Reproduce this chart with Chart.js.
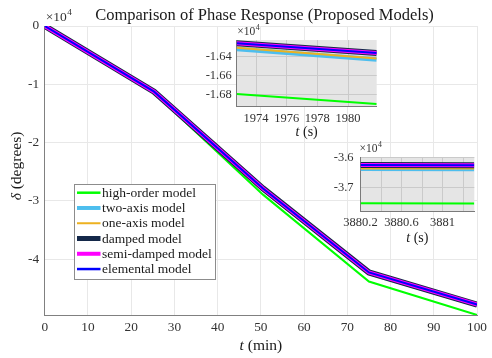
<!DOCTYPE html>
<html>
<head>
<meta charset="utf-8">
<script src="https://cdn.jsdelivr.net/npm/chart.js@4.4.1/dist/chart.umd.min.js"></script>
<style>
  html, body { margin: 0; padding: 0; background: #ffffff; }
  #wrap { position: relative; width: 492px; height: 358px; overflow: hidden; }
  #wrap canvas { position: absolute; }
</style>
</head>
<body>
<div id="wrap">
  <canvas id="main" width="492" height="358" style="left:0px;top:0px"></canvas>
  <canvas id="zoomA" width="195" height="116" style="left:190px;top:24px"></canvas>
  <canvas id="zoomB" width="182" height="105" style="left:310px;top:140px"></canvas>
</div>
<script>
// ---------- series ----------
const seriesLabels = ['high-order model', 'two-axis model', 'one-axis model',
                      'damped model', 'semi-damped model', 'elemental model'];

// ---------- full run: time in minutes, phase in degrees ----------
const timeMin        = [0, 25.3, 50.5, 75, 100];
const highOrderDeg   = [0, -11500, -28940, -43850, -49600];
const twoAxisDeg     = [0, -11300, -27940, -42380, -47870];
const oneAxisDeg     = [0, -11295, -27930, -42370, -47860];
const dampedDeg      = [0, -11270, -27880, -42300, -47800];
const semiDampedDeg  = [0, -11270, -27880, -42300, -47800];
const elementalDeg   = [0, -11270, -27880, -42300, -47800];
const mainTimeTicks  = [0, 10, 20, 30, 40, 50, 60, 70, 80, 90, 100];
const mainPhaseTicks = [-40000, -30000, -20000, -10000, 0];

// ---------- detail window A: time in seconds ----------
const zoomATime          = [1972.74, 1981.87];
const zoomAHighOrder     = [-16793, -16898];
const zoomATwoAxis       = [-16318, -16430];
const zoomAOneAxis       = [-16306, -16418];
const zoomADamped        = [-16259, -16362];
const zoomASemiDamped    = [-16259, -16362];
const zoomAElemental     = [-16259, -16362];
const zoomATimeTicks     = [1974, 1976, 1978, 1980];
const zoomAPhaseTicks    = [-16800, -16600, -16400];

// ---------- detail window B: time in seconds ----------
const zoomBTime          = [3880.2, 3881.31];
const zoomBHighOrder     = [-37540, -37545];
const zoomBTwoAxis       = [-36378, -36383];
const zoomBOneAxis       = [-36365, -36370];
const zoomBDamped        = [-36250, -36256];
const zoomBSemiDamped    = [-36250, -36256];
const zoomBElemental     = [-36250, -36256];
const zoomBTimeTicks     = [3880.2, 3880.4, 3880.6, 3880.8, 3881.0, 3881.2];
const zoomBTimeLabels    = ['3880.2', '', '3880.6', '', '3881', ''];
const zoomBPhaseTicks    = [-37000, -36000];

// ---------- styling ----------
const SERIF = '"Liberation Serif", "Times New Roman", serif';
const seriesColors = ['#00ff00', '#4dbeee', '#edb120', '#142849', '#ff00ff', '#0000ff'];
const seriesWidths = [2, 4.5, 2, 6, 4, 2];
const legendWidths = [2.5, 4, 2, 5, 4, 2.5];
const TEXT = '#1a1a1a';
const TICK_TEXT = '#333333';

function toPoints(xs, ys) {
  return xs.map((x, i) => ({ x: x, y: ys[i] }));
}

// later series are painted over earlier ones
function buildDatasets(xs, seriesList, clip) {
  const n = seriesList.length;
  return seriesList.map((ys, i) => {
    const ds = {
      label: seriesLabels[i],
      data: toPoints(xs, ys),
      borderColor: seriesColors[i],
      backgroundColor: seriesColors[i],
      borderWidth: seriesWidths[i],
      pointRadius: 0,
      tension: 0,
      fill: false,
      order: n - 1 - i,
      borderCapStyle: 'butt',
      borderJoinStyle: 'miter'
    };
    if (clip !== undefined) ds.clip = clip;
    return ds;
  });
}

function linearAxis(o) {
  return {
    type: 'linear',
    min: o.min,
    max: o.max,
    afterBuildTicks: s => { s.ticks = o.ticks.map(v => ({ value: v })); },
    afterFit: s => { if (o.isX) s.height = o.fit; else s.width = o.fit; },
    grid: { color: o.gridColor, drawTicks: false, lineWidth: 1 },
    border: { display: true, color: o.axisColor, width: 1 },
    ticks: {
      padding: o.pad, color: TICK_TEXT,
      font: { family: SERIF, size: o.size },
      callback: o.fmt, autoSkip: false, maxRotation: 0, minRotation: 0
    }
  };
}

// draw a sequence of text runs with differing fonts
function drawRuns(ctx, runs, x, y, align) {
  let total = 0;
  runs.forEach(r => { ctx.font = r.font; total += ctx.measureText(r.text).width; });
  let cx = align === 'center' ? x - total / 2 : x;
  ctx.textAlign = 'left';
  ctx.textBaseline = 'alphabetic';
  runs.forEach(r => {
    ctx.font = r.font;
    ctx.fillText(r.text, cx, y);
    cx += ctx.measureText(r.text).width;
  });
}

// "×10^4" exponent marker above an axis
function drawExponent(ctx, x, baseline, size) {
  ctx.fillStyle = TICK_TEXT;
  ctx.textAlign = 'left';
  ctx.textBaseline = 'alphabetic';
  ctx.font = size + 'px ' + SERIF;
  const w = ctx.measureText('\u00d710').width;
  ctx.fillText('\u00d710', x, baseline);
  ctx.font = (size * 0.68) + 'px ' + SERIF;
  ctx.fillText('4', x + w + 0.5, baseline - size * 0.42);
}

// ---------- full run chart ----------
const mainDecor = {
  id: 'mainDecor',
  afterDraw(chart) {
    const ctx = chart.ctx;
    const area = chart.chartArea;
    ctx.save();
    ctx.fillStyle = TEXT;

    // title
    drawRuns(ctx, [{ text: 'Comparison of Phase Response (Proposed Models)', font: '16.5px ' + SERIF }],
             264.5, 20, 'center');

    // exponent marker on the phase axis
    drawExponent(ctx, area.left + 1, 21, 13.5);

    // axis titles
    ctx.fillStyle = TEXT;
    drawRuns(ctx, [{ text: 't', font: 'italic 15.5px ' + SERIF },
                   { text: ' (min)', font: '15.5px ' + SERIF }],
             (area.left + area.right) / 2, 349.5, 'center');
    ctx.save();
    ctx.translate(21, 166);
    ctx.rotate(-Math.PI / 2);
    drawRuns(ctx, [{ text: '\u03b4', font: 'italic 15.5px ' + SERIF },
                   { text: ' (degrees)', font: '15.5px ' + SERIF }],
             0, 0, 'center');
    ctx.restore();

    // legend
    const box = { x: 74.5, y: 184.5, w: 141, h: 95 };
    ctx.fillStyle = '#ffffff';
    ctx.fillRect(box.x, box.y, box.w, box.h);
    ctx.strokeStyle = '#8c8c8c';
    ctx.lineWidth = 1;
    ctx.strokeRect(box.x, box.y, box.w, box.h);
    chart.data.datasets.forEach((ds, i) => {
      const y = 192.7 + i * 15.27;
      ctx.strokeStyle = ds.borderColor;
      ctx.lineWidth = legendWidths[i];
      ctx.beginPath();
      ctx.moveTo(77, y);
      ctx.lineTo(100.5, y);
      ctx.stroke();
      ctx.fillStyle = TEXT;
      ctx.font = '13.5px ' + SERIF;
      ctx.textAlign = 'left';
      ctx.textBaseline = 'middle';
      ctx.fillText(ds.label, 102, y + 0.5);
    });
    ctx.restore();
  }
};

new Chart(document.getElementById('main'), {
  type: 'line',
  data: {
    datasets: buildDatasets(timeMin,
      [highOrderDeg, twoAxisDeg, oneAxisDeg, dampedDeg, semiDampedDeg, elementalDeg])
  },
  options: {
    responsive: false,
    animation: false,
    events: [],
    layout: { padding: { left: 0, right: 5, top: 26, bottom: 0 } },
    plugins: { legend: { display: false }, tooltip: { enabled: false }, title: { display: false } },
    scales: {
      x: linearAxis({ isX: true, min: 0, max: 100, ticks: mainTimeTicks, fit: 43, pad: 5, size: 13.3,
                      gridColor: '#e8e8e8', axisColor: '#808080', fmt: v => String(v) }),
      y: linearAxis({ isX: false, min: -49600, max: 0, ticks: mainPhaseTicks, fit: 44.7, pad: 5.5, size: 13.3,
                      gridColor: '#e8e8e8', axisColor: '#808080', fmt: v => String(v / 1e4) })
    }
  },
  plugins: [mainDecor]
});

// ---------- detail windows ----------
function detailDecor(id, expX, expBase, titleBase) {
  return {
    id: id,
    beforeDraw(chart) {
      const a = chart.chartArea;
      const ctx = chart.ctx;
      ctx.save();
      ctx.fillStyle = '#e5e5e5';
      ctx.fillRect(a.left, a.top, a.right - a.left, a.bottom - a.top);
      ctx.restore();
    },
    afterDraw(chart) {
      const a = chart.chartArea;
      const ctx = chart.ctx;
      ctx.save();
      drawExponent(ctx, a.left + expX, expBase, 11.5);
      ctx.fillStyle = TEXT;
      drawRuns(ctx, [{ text: 't', font: 'italic 14px ' + SERIF },
                     { text: ' (s)', font: '14px ' + SERIF }],
               (a.left + a.right) / 2, titleBase, 'center');
      ctx.restore();
    }
  };
}

new Chart(document.getElementById('zoomA'), {
  type: 'line',
  data: {
    datasets: buildDatasets(zoomATime,
      [zoomAHighOrder, zoomATwoAxis, zoomAOneAxis, zoomADamped, zoomASemiDamped, zoomAElemental], 0)
  },
  options: {
    responsive: false,
    animation: false,
    events: [],
    layout: { padding: { left: 0, right: 8.3, top: 16, bottom: 0 } },
    plugins: { legend: { display: false }, tooltip: { enabled: false } },
    scales: {
      x: linearAxis({ isX: true, min: 1972.74, max: 1981.87, ticks: zoomATimeTicks, fit: 34, pad: 5, size: 12.5,
                      gridColor: '#cacaca', axisColor: '#7a7a7a', fmt: v => String(v) }),
      y: linearAxis({ isX: false, min: -16919, max: -16224, ticks: zoomAPhaseTicks, fit: 46.7, pad: 5, size: 12.5,
                      gridColor: '#cacaca', axisColor: '#7a7a7a', fmt: v => (v / 1e4).toFixed(2) })
    }
  },
  plugins: [detailDecor('zoomADecor', 0.5, 11, 112)]
});

new Chart(document.getElementById('zoomB'), {
  type: 'line',
  data: {
    datasets: buildDatasets(zoomBTime,
      [zoomBHighOrder, zoomBTwoAxis, zoomBOneAxis, zoomBDamped, zoomBSemiDamped, zoomBElemental], 0)
  },
  options: {
    responsive: false,
    animation: false,
    events: [],
    layout: { padding: { left: 0, right: 17.7, top: 17, bottom: 0 } },
    plugins: { legend: { display: false }, tooltip: { enabled: false } },
    scales: {
      x: linearAxis({ isX: true, min: 3880.2, max: 3881.31, ticks: zoomBTimeTicks, fit: 33.3, pad: 4, size: 12.5,
                      gridColor: '#cacaca', axisColor: '#7a7a7a', fmt: (v, i) => zoomBTimeLabels[i] }),
      y: linearAxis({ isX: false, min: -37825, max: -35980, ticks: zoomBPhaseTicks, fit: 50.5, pad: 7, size: 12.5,
                      gridColor: '#cacaca', axisColor: '#7a7a7a', fmt: v => (v / 1e4).toFixed(1) })
    }
  },
  plugins: [detailDecor('zoomBDecor', -1, 11.5, 102)]
});
</script>
</body>
</html>
